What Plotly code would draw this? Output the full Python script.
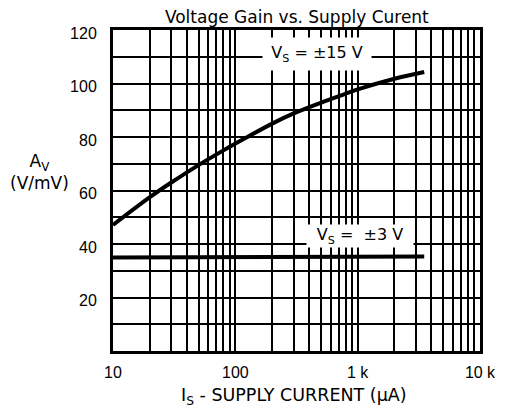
import plotly.graph_objects as go

# Data
i_supply_15 = [10, 20, 30, 50, 80, 120, 200, 300, 500, 800, 1000, 2000, 3500]
gain_15 = [47.1, 57.5, 63.0, 69.5, 75.0, 79.5, 85.0, 88.8, 92.8, 96.2, 97.8, 101.8, 104.3]
i_supply_3 = [10, 3500]
gain_3 = [35.0, 35.3]

x_tick_vals = [m * 10 ** e for e in (1, 2, 3) for m in range(1, 10)] + [10000]
x_tick_text = {10: "10", 100: "100", 1000: "1 k", 10000: "10 k"}
y_tick_vals = list(range(0, 121, 10))
y_tick_labels = [20, 40, 60, 80, 100, 120]

ARIAL = "Liberation Sans, Arial, sans-serif"
WIDE = "DejaVu Sans, sans-serif"

fig = go.Figure()
fig.add_trace(go.Scatter(x=i_supply_15, y=gain_15, mode="lines",
                         line=dict(color="black", width=4, shape="spline"),
                         showlegend=False))
fig.add_trace(go.Scatter(x=i_supply_3, y=gain_3, mode="lines",
                         line=dict(color="black", width=4),
                         showlegend=False))

fig.add_annotation(x=2.668, y=111.2, xref="x", yref="y",
                   text="V<sub>S</sub> = ±15 V", showarrow=False,
                   font=dict(family=WIDE, size=16, color="black"),
                   bgcolor="white", width=108, height=32, borderpad=0)
fig.add_annotation(x=3.02, y=43, xref="x", yref="y",
                   text="V<sub>S</sub> =\u00a0 ±3 V", showarrow=False,
                   font=dict(family=WIDE, size=16, color="black"),
                   bgcolor="white", width=106, height=22, borderpad=0)

# y-axis title
fig.add_annotation(x=-0.199, y=0.559, xref="paper", yref="paper",
                   xanchor="center", yanchor="middle",
                   text="A<sub>V</sub><br>(V/mV)", showarrow=False,
                   font=dict(family=WIDE, size=17, color="black"),
                   align="center")
# x-axis title
fig.add_annotation(x=0.493, y=-0.143, xref="paper", yref="paper",
                   xanchor="center", yanchor="middle",
                   text="I<sub>S</sub> - SUPPLY CURRENT (µA)", showarrow=False,
                   font=dict(family=WIDE, size=17.5, color="black"))

fig.update_layout(
    width=498, height=402,
    margin=dict(l=105, r=26, t=22, b=59, autoexpand=False),
    paper_bgcolor="white", plot_bgcolor="white",
    title=dict(text="Voltage Gain vs. Supply Curent", xref="paper", x=0.501,
               xanchor="center", y=1 - 9.5 / 402, yanchor="middle",
               font=dict(family=WIDE, size=17, color="black")),
    font=dict(family=ARIAL, size=16, color="black"),
)
fig.update_xaxes(type="log", range=[1, 4], automargin=False,
                 tickvals=x_tick_vals,
                 ticktext=[x_tick_text.get(v, "") for v in x_tick_vals],
                 tickfont=dict(family=ARIAL, size=16),
                 showgrid=True, gridcolor="black", gridwidth=2,
                 showline=True, linecolor="black", linewidth=3, mirror=True,
                 ticks="", ticklabelstandoff=5, zeroline=False)
fig.update_yaxes(range=[0, 120], automargin=False,
                 tickvals=y_tick_vals,
                 ticktext=[str(v) if v in y_tick_labels else "" for v in y_tick_vals],
                 tickfont=dict(family=ARIAL, size=16),
                 showgrid=True, gridcolor="black", gridwidth=2,
                 showline=True, linecolor="black", linewidth=3, mirror=True,
                 ticks="", ticklabelstandoff=10, ticklabelshift=3, zeroline=False)

fig.write_html("out.html")
